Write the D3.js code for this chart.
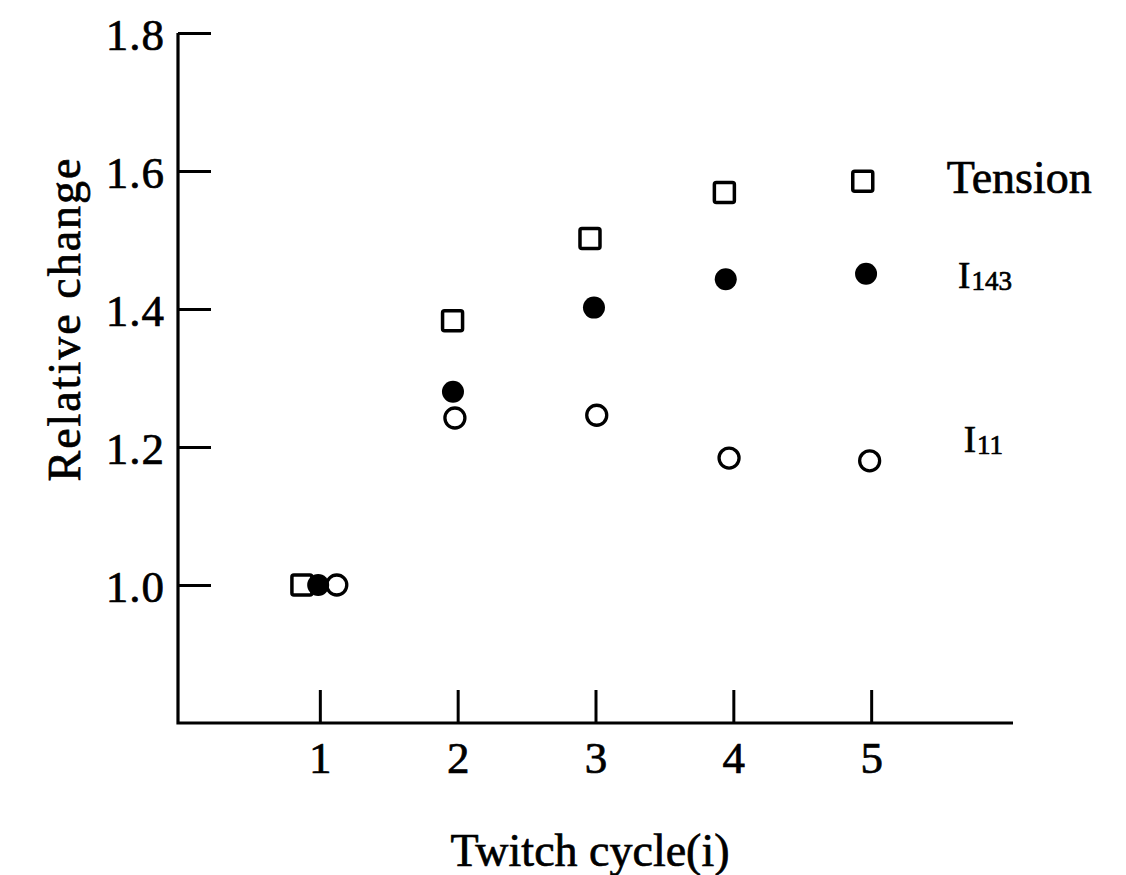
<!DOCTYPE html>
<html>
<head>
<meta charset="utf-8">
<script src="https://cdn.jsdelivr.net/npm/d3@7"></script>
<style>
  html, body { margin: 0; padding: 0; background: #fff; }
  svg { display: block; font-family: "Liberation Serif", "DejaVu Serif", serif; }
  text { stroke: #000; stroke-width: 0.7px; }
</style>
</head>
<body>
<svg id="chart" width="1126" height="875"></svg>
<script>
// ---- data ----
const xTicks = [1, 2, 3, 4, 5];
const yTicks = [1.0, 1.2, 1.4, 1.6, 1.8];
const yTickLabels = ["1.0", "1.2", "1.4", "1.6", "1.8"];

const tensionX = [0.87, 1.963, 2.96, 3.935, 4.939];
const tensionY = [1.0, 1.383, 1.502, 1.569, 1.585];

const i143X = [0.988, 1.966, 2.989, 3.945, 4.963];
const i143Y = [1.0, 1.280, 1.402, 1.443, 1.451];

const i11X = [1.123, 1.980, 3.009, 3.969, 4.989];
const i11Y = [1.0, 1.242, 1.246, 1.184, 1.180];

const seriesNames = ["Tension", "I143", "I11"];

const xTitle = "Twitch cycle(i)";
const yTitle = "Relative change";

// ---- scales ----
const svg = d3.select("#chart");
const x = d3.scaleLinear().domain([0, 6]).range([182, 1009]);
const y = d3.scaleLinear().domain([0.8, 1.8]).range([723, 33]);
const axisX0 = 178;          // y-axis line position
const axisXEnd = 1013;       // x-axis line end

const g = svg.append("g");

// ---- axes ----
const yAxis = d3.axisLeft(y)
  .tickValues(yTicks)
  .tickFormat((d, i) => yTickLabels[i])
  .tickSizeInner(-33)
  .tickSizeOuter(0);
const gy = g.append("g").attr("transform", `translate(${axisX0},0)`).call(yAxis);
gy.select(".domain").remove();
gy.selectAll(".tick line").attr("stroke", "#000").attr("stroke-width", 3);
gy.selectAll(".tick text")
  .attr("x", -13)
  .attr("dy", "0.36em")
  .attr("fill", "#000")
  .style("font-family", "'Liberation Serif', serif")
  .style("font-size", "45px")
  .style("letter-spacing", "1px");

const xAxis = d3.axisBottom(x)
  .tickValues(xTicks)
  .tickFormat(d3.format("d"))
  .tickSizeInner(-33)
  .tickSizeOuter(0);
const gx = g.append("g").attr("transform", `translate(0,${y(0.8)})`).call(xAxis);
gx.select(".domain").remove();
gx.selectAll(".tick line").attr("stroke", "#000").attr("stroke-width", 3);
gx.selectAll(".tick text")
  .attr("y", 50)
  .attr("dy", 0)
  .attr("fill", "#000")
  .style("font-family", "'Liberation Serif', serif")
  .style("font-size", "45px");

// axis lines
g.append("path")
  .attr("d", d3.line()([[axisX0, y(1.8)], [axisX0, y(0.8)], [axisXEnd, y(0.8)]]))
  .attr("fill", "none")
  .attr("stroke", "#000")
  .attr("stroke-width", 3.2)
  .attr("stroke-linejoin", "miter");

// ---- axis titles ----
g.append("text")
  .attr("transform", `translate(80,${(y(1.8) + y(0.8)) / 2 - 59}) rotate(-90)`)
  .attr("text-anchor", "middle")
  .style("font-size", "46px")
  .style("letter-spacing", "2px")
  .attr("fill", "#000")
  .text(yTitle);

g.append("text")
  .attr("x", 590)
  .attr("y", 866)
  .attr("text-anchor", "middle")
  .style("font-size", "46px")
  .attr("fill", "#000")
  .text(xTitle);

// ---- marks ----
const tension = tensionX.map((v, i) => ({ x: v, y: tensionY[i] }));
const i143 = i143X.map((v, i) => ({ x: v, y: i143Y[i] }));
const i11 = i11X.map((v, i) => ({ x: v, y: i11Y[i] }));

const sq = 20;
g.append("g").selectAll("rect").data(tension).join("rect")
  .attr("x", d => x(d.x) - sq / 2)
  .attr("y", d => y(d.y) - sq / 2)
  .attr("width", sq)
  .attr("height", sq)
  .attr("rx", 2)
  .attr("fill", "#fff")
  .attr("stroke", "#000")
  .attr("stroke-width", 3.5);

g.append("g").selectAll("circle").data(i11).join("circle")
  .attr("cx", d => x(d.x))
  .attr("cy", d => y(d.y))
  .attr("r", 10)
  .attr("fill", "#fff")
  .attr("stroke", "#000")
  .attr("stroke-width", 3.3);

g.append("g").selectAll("circle").data(i143).join("circle")
  .attr("cx", d => x(d.x))
  .attr("cy", d => y(d.y))
  .attr("r", 11)
  .attr("fill", "#000");

// ---- direct labels next to the last points ----
const lastT = tension[tension.length - 1];
g.append("text")
  .attr("x", x(lastT.x) + 84)
  .attr("y", y(lastT.y) + 12)
  .style("font-size", "46px")
  .attr("fill", "#000")
  .text(seriesNames[0]);

function subLabel(name, px, py) {
  const t = g.append("text")
    .attr("x", px)
    .attr("y", py)
    .attr("fill", "#000");
  t.append("tspan").style("font-size", "37px").text(name.charAt(0));
  t.append("tspan").attr("dx", 1).attr("dy", 2).style("font-size", "27px").text(name.slice(1));
}
const lastA = i143[i143.length - 1];
subLabel(seriesNames[1], x(lastA.x) + 92, y(lastA.y) + 14);
const lastB = i11[i11.length - 1];
subLabel(seriesNames[2], x(lastB.x) + 94, y(lastB.y) - 9);
</script>
</body>
</html>
